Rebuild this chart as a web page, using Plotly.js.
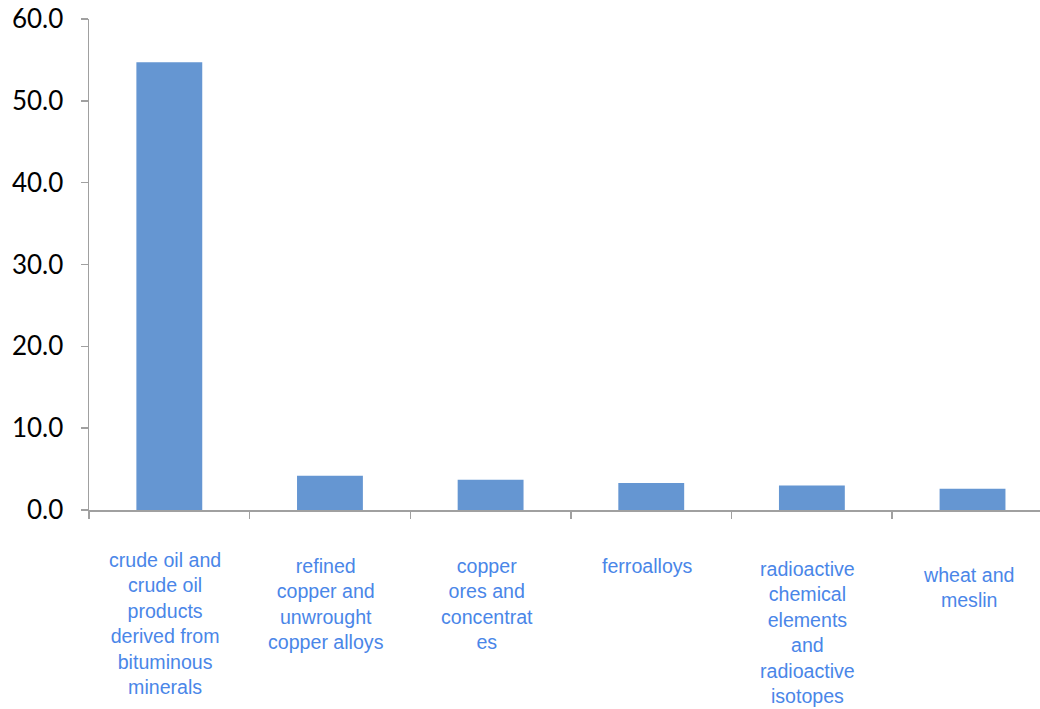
<!DOCTYPE html>
<html>
<head>
<meta charset="utf-8">
<script src="https://cdn.plot.ly/plotly-3.0.1.min.js"></script>
<style>html,body{margin:0;padding:0;background:#fff;overflow:hidden}#chart{width:1040px;height:709px}</style>
</head>
<body>
<div id="chart"></div>
<script>
const categories = [
  "crude oil and<br>crude oil<br>products<br>derived from<br>bituminous<br>minerals",
  "refined<br>copper and<br>unwrought<br>copper alloys",
  "copper<br>ores and<br>concentrat<br>es",
  "ferroalloys",
  "radioactive<br>chemical<br>elements<br>and<br>radioactive<br>isotopes",
  "wheat and<br>meslin"
];
const values = [54.7, 4.2, 3.7, 3.3, 3.0, 2.6];
const labelShift = [-37, -43, -43, -43, -46, -52];
const yTicks = [0, 10, 20, 30, 40, 50, 60];

const idx = categories.map((c, i) => i);

const trace = {
  type: 'bar',
  x: idx,
  y: values,
  width: 0.41,
  marker: {color: '#6596d2', line: {width: 0}},
  hoverinfo: 'skip'
};

const annotations = categories.map((c, i) => ({
  x: i, xref: 'x', y: 0, yref: 'paper',
  yanchor: 'top', xanchor: 'center',
  yshift: labelShift[i], xshift: -4,
  text: c, showarrow: false, align: 'center',
  font: {family: "'Liberation Sans', Arial, sans-serif", size: 19.6, color: '#4a86e8'}
}));

const layout = {
  width: 1040, height: 709,
  margin: {l: 89, r: 0, t: 19, b: 199},
  paper_bgcolor: '#fff', plot_bgcolor: '#fff',
  showlegend: false,
  xaxis: {
    range: [-0.5, 5.42], tickmode: 'array', tickvals: [-0.5, 0.5, 1.5, 2.5, 3.5, 4.5],
    showticklabels: false, ticks: 'outside', ticklen: 7, tickcolor: '#a0a0a0', tickwidth: 1.5,
    showline: true, linecolor: '#a0a0a0', linewidth: 1.5, showgrid: false, zeroline: false
  },
  yaxis: {
    range: [0, 60], tickmode: 'array', tickvals: yTicks, tickformat: '.1f',
    ticks: 'outside', ticklen: 7, tickcolor: '#a0a0a0', tickwidth: 1.5,
    showline: true, linecolor: '#a0a0a0', linewidth: 1.5, showgrid: false, zeroline: false,
    tickfont: {family: "Lato, 'Open Sans', sans-serif", size: 26, color: '#000'}, ticklabelstandoff: 12
  },
  annotations: annotations
};

Plotly.newPlot('chart', [trace], layout, {displayModeBar: false, staticPlot: true});
</script>
</body>
</html>
